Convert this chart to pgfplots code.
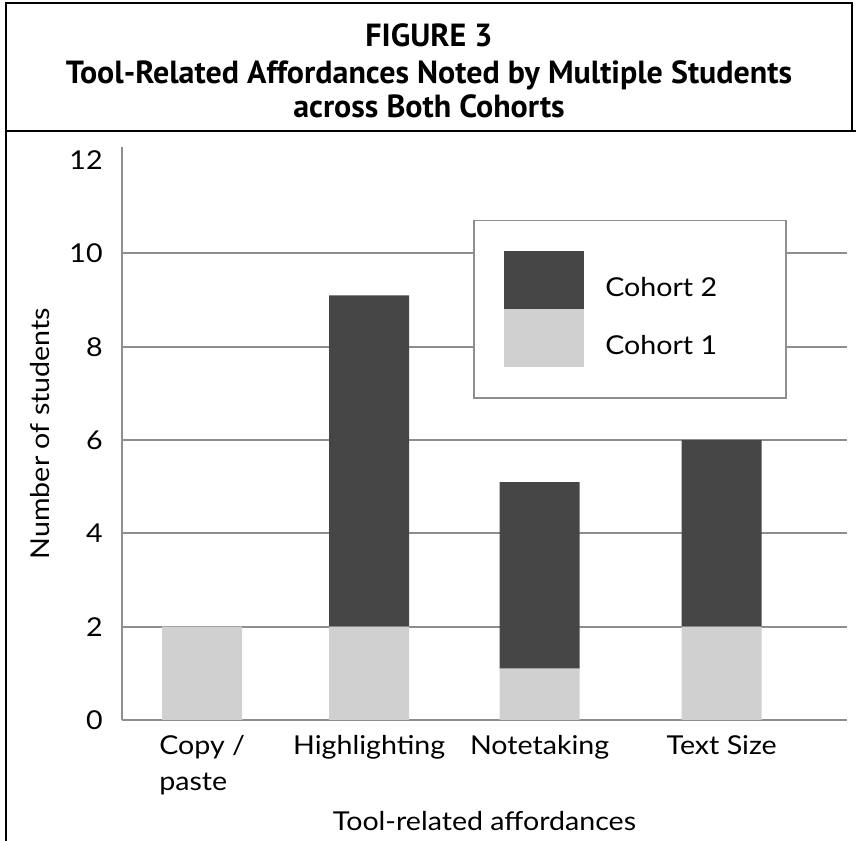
\documentclass[border=0pt]{standalone}
\usepackage{pgfplots}
\pgfplotsset{compat=1.18}
\usepackage{fontspec}
\setmainfont{Lato}[FakeStretch=1.1]
\newfontfamily\titlefont{PT Sans}

\definecolor{dark}{HTML}{464646}
\definecolor{light}{HTML}{D0D0D0}
\definecolor{gridc}{HTML}{8E8E8E}

\begin{document}
\begin{tikzpicture}
\useasboundingbox (0,0) rectangle (642pt,630.75pt);

% frame and title, in pixel units from the top left
\begin{scope}[x=0.75pt,y=-0.75pt,yshift=630.75pt]
  \draw[line width=1.5pt] (6,842) -- (6,3) -- (852,3) -- (852,131);
  \draw[line width=1.5pt] (6,131) -- (857,131);
  \begin{scope}[every node/.style={font=\titlefont\bfseries\fontsize{24}{26}\selectfont, anchor=base}]
    \node at (429,47) {FIGURE 3};
    \node at (429,84) {Tool-Related Affordances Noted by Multiple Students};
    \node at (429,118) {across Both Cohorts};
  \end{scope}
\end{scope}

\begin{axis}[
  at={(91.5pt,90.75pt)}, anchor=south west,
  scale only axis, width=543.75pt, height=429.75pt,
  font=\fontsize{19.5}{27}\selectfont,
  /pgf/number format/assume math mode=true,
  ybar stacked, bar width=60pt,
  xmin=-0.48, xmax=3.86, ymin=0, ymax=12.28,
  axis x line*=bottom, axis y line*=left,
  axis line style={gridc, line width=1.5pt, -},
  major tick length=0pt,
  xtick={0,1,2.02,3.11},
  xticklabels={{Copy /\\paste},Highlighting,Notetaking,Text Size},
  xticklabel style={align=left, yshift=-8pt},
  ytick={2,4,...,10}, extra y ticks={0,12},
  extra y tick style={grid=none},
  ymajorgrids, grid style={gridc, line width=1.5pt},
  yticklabel style={xshift=-11pt},
  xlabel={Tool-related affordances},
  xlabel style={at={(axis description cs:0.5,-0.176)}, anchor=center},
  ylabel={Number of students},
  ylabel style={at={(axis description cs:-0.113,0.5)}, anchor=center},
  reverse legend,
  legend cell align=left,
  legend image code/.code={\fill[#1] (0pt,-15.75pt) rectangle (60pt,27.75pt);},
  legend style={at={(0.917,0.873)}, anchor=north east, draw=gridc, line width=1.2pt,
    fill=white, inner xsep=22.5pt, inner ysep=23pt, row sep=0pt, column sep=16pt,
    nodes={inner sep=0pt}},
]
\addplot[fill=light, draw=none] coordinates {(0,2) (1,2) (2.02,1.1) (3.11,2)};
\addlegendentry{\makebox[113pt][l]{Cohort 1}}
\addplot[fill=dark, draw=none] coordinates {(0,0) (1,7.1) (2.02,4) (3.11,4)};
\addlegendentry{\makebox[113pt][l]{Cohort 2}}
\end{axis}
\end{tikzpicture}
\end{document}
